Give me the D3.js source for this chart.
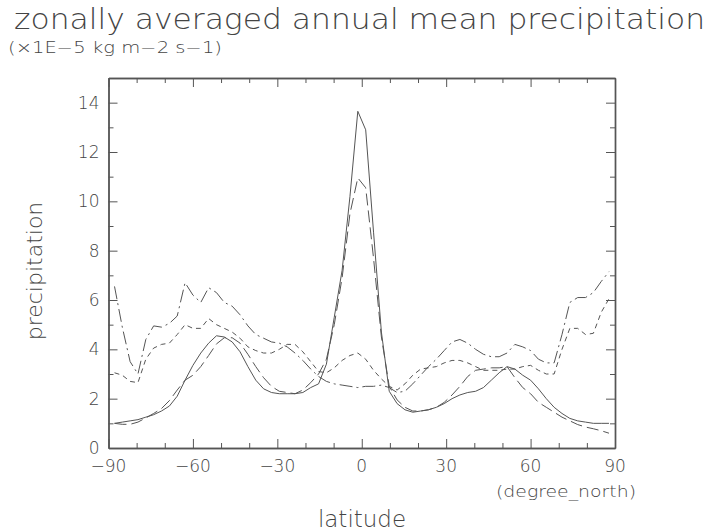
<!DOCTYPE html>
<html><head><meta charset="utf-8">
<script src="https://cdn.jsdelivr.net/npm/d3@7"></script>
<style>
html,body{margin:0;padding:0;background:#fff;}
svg text{font-family:"DejaVu Sans",sans-serif;fill:#444;font-weight:200;}
</style></head>
<body><svg id="c" width="713" height="532"></svg>
<script>
const latitudes = [-87.86,-85.10,-82.31,-79.53,-76.74,-73.95,-71.16,-68.37,-65.58,-62.79,-60.00,-57.21,-54.42,-51.63,-48.84,-46.05,-43.25,-40.46,-37.67,-34.88,-32.09,-29.30,-26.51,-23.72,-20.93,-18.14,-15.35,-12.56,-9.77,-6.98,-4.19,-1.40,
  1.40,4.19,6.98,9.77,12.56,15.35,18.14,20.93,23.72,26.51,29.30,32.09,34.88,37.67,40.46,43.25,46.05,48.84,51.63,54.42,57.21,60.00,62.79,65.58,68.37,71.16,73.95,76.74,79.53,82.31,85.10,87.86];

const solidSeries = [1.0,1.05,1.1,1.15,1.25,1.35,1.5,1.7,2.1,2.75,3.35,3.85,4.25,4.55,4.5,4.3,3.9,3.3,2.75,2.4,2.25,2.2,2.2,2.2,2.25,2.45,2.6,3.4,5.3,7.2,10.2,13.65,
  12.9,8.75,4.7,2.3,1.8,1.55,1.45,1.5,1.55,1.65,1.8,2.0,2.15,2.25,2.3,2.45,2.75,3.05,3.3,3.2,2.95,2.75,2.4,2.0,1.65,1.4,1.2,1.1,1.05,1.0,1.0,1.0];

const longDashSeries = [1.0,0.96,0.96,1.05,1.22,1.4,1.6,1.92,2.35,2.75,2.95,3.3,3.75,4.22,4.47,4.47,4.25,3.8,3.3,2.85,2.5,2.3,2.25,2.2,2.35,2.65,3.0,3.6,5.0,6.9,9.5,10.95,
  10.55,7.7,4.5,2.5,1.95,1.65,1.5,1.5,1.55,1.65,1.85,2.15,2.5,2.9,3.15,3.2,3.25,3.25,3.3,2.85,2.45,2.2,1.85,1.65,1.45,1.25,1.1,0.95,0.85,0.78,0.7,0.6];

const dashDotSeries = [6.55,4.9,3.5,3.0,4.4,4.95,4.9,5.05,5.35,6.7,6.2,5.9,6.5,6.3,5.9,5.75,5.4,4.95,4.6,4.45,4.3,4.25,4.1,3.85,3.55,3.2,2.9,2.7,2.6,2.55,2.5,2.45,
  2.5,2.5,2.55,2.45,2.25,2.3,2.6,2.95,3.3,3.6,3.95,4.3,4.4,4.25,4.0,3.8,3.7,3.7,3.85,4.2,4.1,3.95,3.6,3.45,3.45,4.6,5.9,6.1,6.1,6.3,6.75,7.15];

const shortDashSeries = [3.05,2.95,2.7,2.65,3.6,4.05,4.2,4.25,4.6,5.0,4.85,4.85,5.25,5.0,4.85,4.7,4.45,4.1,3.95,3.85,3.85,4.0,4.2,4.2,3.9,3.5,3.1,3.05,3.25,3.55,3.75,3.85,
  3.6,3.15,2.8,2.5,2.35,2.6,2.95,3.2,3.25,3.3,3.45,3.55,3.55,3.45,3.3,3.15,3.15,3.15,3.2,3.2,3.3,3.35,3.15,3.0,3.0,4.0,4.85,4.85,4.6,4.65,5.5,6.05];

const xMajorTicks = [-90,-60,-30,0,30,60,90];
const xMinorTicks = [-80,-70,-50,-40,-20,-10,10,20,40,50,70,80];
const yMajorTicks = [0,2,4,6,8,10,12,14];
const yMinorTicks = [1,3,5,7,9,11,13,15];

const titleText = "zonally averaged annual mean precipitation";
const unitText = "(\u00d71E\u22125 kg m\u22122 s\u22121)";
const yLabel = "precipitation";
const xLabel = "latitude";
const xUnit = "(degree_north)";

const L = 108.5, R = 615, T = 78, B = 448;
const svg = d3.select("#c");
const x = d3.scaleLinear().domain([-90,90]).range([L,R]);
const y = d3.scaleLinear().domain([0,15]).range([B,T]);
const fmt = d => d < 0 ? "\u2212" + Math.abs(d) : String(d);
const axisColor = "#555";

// title
svg.append("text").attr("x",14).attr("y",29).attr("font-size",29)
  .attr("textLength",691).attr("lengthAdjust","spacingAndGlyphs").text(titleText);
svg.append("text").attr("x",8).attr("y",53).attr("font-size",15.5)
  .attr("textLength",214).attr("lengthAdjust","spacingAndGlyphs").text(unitText);

// axes with inward ticks
function ax(gen, tr, vals, size){
  const g = svg.append("g").attr("transform",tr).call(gen.tickValues(vals).tickSize(size).tickSizeOuter(0).tickFormat(""));
  g.select(".domain").attr("stroke",axisColor);
  g.selectAll(".tick line").attr("stroke",axisColor);
  return g;
}
ax(d3.axisTop(x), `translate(0,${B})`, xMajorTicks, 9);
ax(d3.axisTop(x), `translate(0,${B})`, xMinorTicks, 5);
ax(d3.axisBottom(x), `translate(0,${T})`, xMajorTicks, 9);
ax(d3.axisBottom(x), `translate(0,${T})`, xMinorTicks, 5);
ax(d3.axisRight(y), `translate(${L},0)`, yMajorTicks, 9);
ax(d3.axisRight(y), `translate(${L},0)`, yMinorTicks, 5);
ax(d3.axisLeft(y), `translate(${R},0)`, yMajorTicks, 9);
ax(d3.axisLeft(y), `translate(${R},0)`, yMinorTicks, 5);
svg.selectAll(".domain").attr("stroke-width",1.4);

// tick labels
svg.append("g").selectAll("text").data(xMajorTicks).join("text")
  .attr("x",d=>x(d)).attr("y",B+24).attr("text-anchor","middle").attr("font-size",17).text(fmt);
svg.append("g").selectAll("text").data(yMajorTicks).join("text")
  .attr("x",L-9).attr("y",d=>y(d)+6).attr("text-anchor","end").attr("font-size",17).text(fmt);

svg.append("text").attr("x",566).attr("y",497).attr("text-anchor","middle").attr("font-size",15.5)
  .attr("textLength",140).attr("lengthAdjust","spacingAndGlyphs").text(xUnit);
svg.append("text").attr("x",362).attr("y",527).attr("text-anchor","middle").attr("font-size",23).text(xLabel);
svg.append("text").attr("transform",`translate(42,${(T+B)/2+8}) rotate(-90)`).attr("text-anchor","middle").attr("font-size",22).text(yLabel);

// series
const line = d3.line().x((d,i)=>x(latitudes[i])).y(d=>y(d));
const series = [
  {v: solidSeries, dash: null},
  {v: longDashSeries, dash: "12,5"},
  {v: dashDotSeries, dash: "13,4,2,4"},
  {v: shortDashSeries, dash: "5,4"}
];
svg.append("g").selectAll("path").data(series).join("path")
  .attr("d", s=>line(s.v)).attr("fill","none").attr("stroke","#555").attr("stroke-width",1)
  .attr("stroke-dasharray", s=>s.dash);
</script></body></html>
